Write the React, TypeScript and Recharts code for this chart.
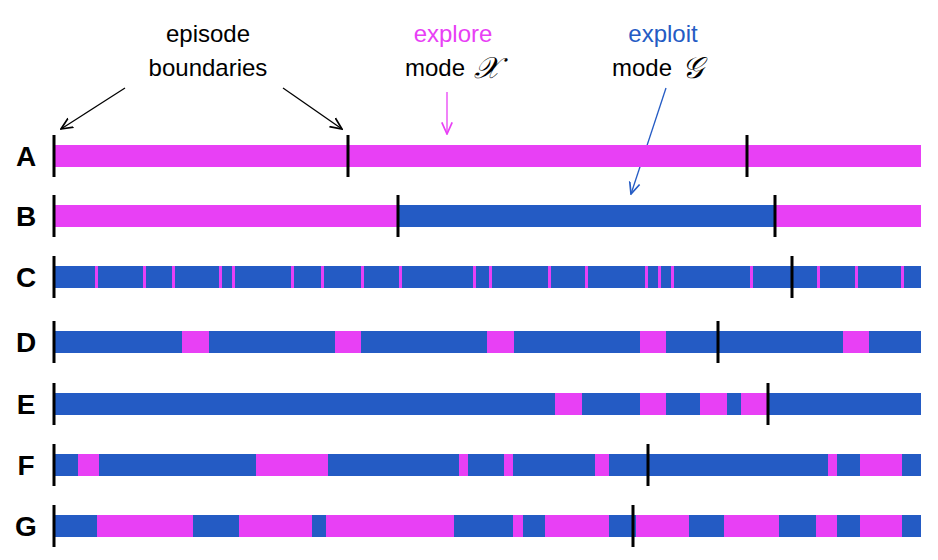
import { ComposedChart, XAxis, YAxis, Scatter, Customized } from "recharts";

const PINK = "#E840F5";
const BLUE = "#245BC4";

const rows = ["A", "B", "C", "D", "E", "F", "G"];
const rowY = [156, 216, 277, 342, 404, 465, 526];
const barStart = 55;
const barEnd = 921;

// base colour of each row; segments of the other mode drawn on top
const baseMode = ["x", "x", "g", "g", "g", "g", "g"];
const segments: [number, number][][] = [
  [],
  [[398, 775]],
  [[95, 98], [143, 146], [172, 175], [219, 222], [232, 235], [291, 294], [321, 324], [361, 364], [399, 402], [473, 476], [489, 492], [548, 551], [585, 588], [645, 648], [658, 661], [671, 674], [750, 753], [817, 820], [855, 858], [901, 904]],
  [[182, 209], [335, 361], [487, 514], [640, 666], [843, 869]],
  [[555, 582], [640, 666], [700, 727], [741, 767]],
  [[78, 99], [256, 328], [459, 468], [504, 513], [595, 609], [828, 837], [860, 902]],
  [[97, 193], [239, 312], [326, 454], [513, 523], [545, 609], [636, 689], [724, 779], [816, 837], [860, 902]],
];
const boundaries = [
  [54, 348, 747],
  [54, 398, 775],
  [54, 792],
  [54, 718],
  [54, 768],
  [54, 648],
  [54, 633],
];

const font = "Arial, 'Liberation Sans', sans-serif";

const basePoints = rows.map((r, i) => ({
  x: (barStart + barEnd) / 2, y: rowY[i], w: barEnd - barStart, fill: baseMode[i] === "x" ? PINK : BLUE,
}));
const segPoints = segments.flatMap((segs, i) =>
  segs.map(([a, b]) => ({ x: (a + b) / 2, y: rowY[i], w: b - a, fill: baseMode[i] === "x" ? BLUE : PINK }))
);
const boundaryPoints = boundaries.flatMap((bs, i) => bs.map((b) => ({ x: b, y: rowY[i] })));

// chart maps 1 data unit to 1 px (domain 0..938 over 938 px)
const SegShape = (p: any) => (
  <rect x={p.cx - p.payload.w / 2} y={p.cy - 11} width={p.payload.w} height={22} fill={p.payload.fill} />
);
const TickShape = (p: any) => (
  <rect x={p.cx - 1.5} y={p.cy - 21} width={3} height={42} fill="#000" />
);

function Annotations() {
  return (
    <g fontFamily={font}>
      <defs>
        <marker id="ak" markerWidth="10" markerHeight="10" refX="9" refY="5" orient="auto">
          <path d="M0,1 L9,5 L0,9" fill="none" stroke="#000" strokeWidth="1.3" />
        </marker>
        <marker id="am" markerWidth="10" markerHeight="10" refX="9" refY="5" orient="auto">
          <path d="M0,1 L9,5 L0,9" fill="none" stroke={PINK} strokeWidth="1.3" />
        </marker>
        <marker id="ab" markerWidth="10" markerHeight="10" refX="9" refY="5" orient="auto">
          <path d="M0,1 L9,5 L0,9" fill="none" stroke={BLUE} strokeWidth="1.3" />
        </marker>
      </defs>
      {rows.map((r, i) => (
        <text key={r} x={26} y={rowY[i] + 10} fontSize={28} fontWeight="bold" textAnchor="middle" fill="#000">{r}</text>
      ))}
      <text x={208} y={42} fontSize={24} textAnchor="middle">episode</text>
      <text x={208} y={76} fontSize={24} textAnchor="middle">boundaries</text>
      <line x1={125} y1={88} x2={61} y2={129} stroke="#000" strokeWidth={1.3} markerEnd="url(#ak)" />
      <line x1={283} y1={88} x2={342} y2={129} stroke="#000" strokeWidth={1.3} markerEnd="url(#ak)" />
      <text x={453} y={42} fontSize={24} textAnchor="middle" fill={PINK}>explore</text>
      <text x={405} y={76} fontSize={24}>mode</text>
      <text x={474} y={78} fontSize={30} fontStyle="italic" fontFamily="'DejaVu Serif', serif">𝒳</text>
      <line x1={447} y1={92} x2={447} y2={134} stroke={PINK} strokeWidth={1.3} markerEnd="url(#am)" />
      <text x={663} y={42} fontSize={24} textAnchor="middle" fill={BLUE}>exploit</text>
      <text x={612} y={76} fontSize={24}>mode</text>
      <text x={682} y={78} fontSize={30} fontStyle="italic" fontFamily="'DejaVu Serif', serif">𝒢</text>
      <line x1={666} y1={88} x2={631} y2={194} stroke={BLUE} strokeWidth={1.3} markerEnd="url(#ab)" />
    </g>
  );
}

export default function App() {
  return (
    <div style={{ position: "absolute", left: 0, top: 0, width: 938, height: 560, background: "#fff" }}>
      <ComposedChart width={938} height={560} margin={{ top: 0, right: 0, bottom: 0, left: 0 }}>
        <XAxis type="number" dataKey="x" domain={[0, 938]} hide />
        <YAxis type="number" dataKey="y" domain={[0, 560]} reversed hide />
        <Scatter data={basePoints} shape={SegShape} isAnimationActive={false} />
        <Scatter data={segPoints} shape={SegShape} isAnimationActive={false} />
        <Scatter data={boundaryPoints} shape={TickShape} isAnimationActive={false} />
        <Customized component={Annotations} />
      </ComposedChart>
    </div>
  );
}
